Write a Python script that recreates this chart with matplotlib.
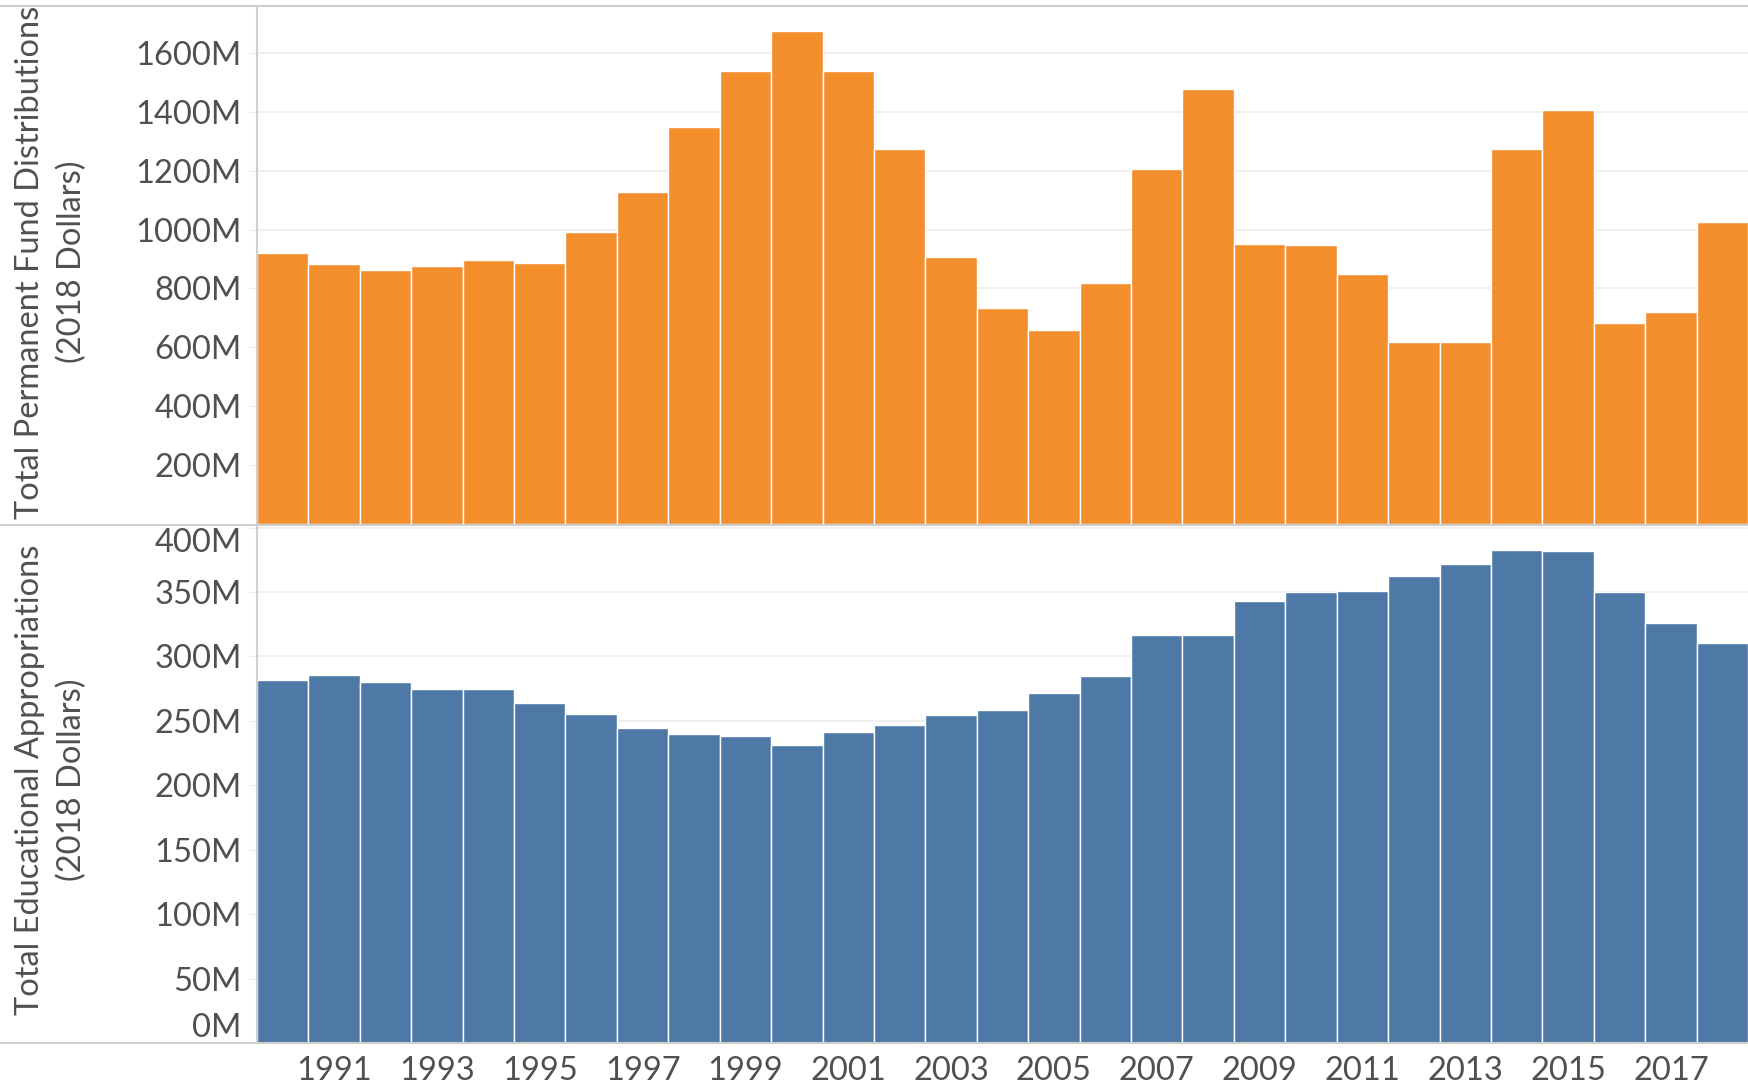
import numpy as np
import matplotlib.pyplot as plt
from matplotlib.lines import Line2D
from matplotlib.ticker import FixedLocator, FuncFormatter

plt.rcParams['font.family'] = ['Lato', 'DejaVu Sans']

##################################################################################
# values, in millions of 2018 dollars

years = list(range(1990, 2019))

fund_dist = [919, 882, 862, 877, 895, 886, 991, 1128, 1349, 1539,
             1673, 1539, 1272, 906, 734, 658, 819, 1205, 1478, 952,
             948, 848, 619, 619, 1272, 1407, 681, 720, 1024]

edu_approp = [281.5, 285.4, 280.2, 274.5, 274.5, 263.6, 255.1, 244.6, 239.9, 238.1,
              231.4, 241.2, 246.6, 254.3, 258.5, 271.4, 284.6, 316.4, 316.4, 343.3,
              350.0, 351.0, 362.1, 371.7, 382.6, 381.8, 350.0, 326.0, 310.7]

year_labels = list(range(1991, 2018, 2))
top_ticks = [200, 400, 600, 800, 1000, 1200, 1400, 1600]
bot_ticks = [0, 50, 100, 150, 200, 250, 300, 350, 400]

###################################################################################

W, H = 1748, 1088
fig = plt.figure(figsize=(W / 100, H / 100), dpi=100)

left = 257
ax1 = fig.add_axes([left / W, 1 - 524 / H, (W - left) / W, (524 - 6) / H])
ax2 = fig.add_axes([left / W, 1 - 1043 / H, (W - left) / W, (1043 - 525) / H])

orange = '#F28E2B'
blue = '#4E79A7'
txt = '#505050'
grid = '#ececec'

ax1.bar(years, fund_dist, width=1.0, color=orange, edgecolor='white', linewidth=1.0, zorder=2)
ax2.bar(years, edu_approp, width=1.0, color=blue, edgecolor='white', linewidth=1.0, zorder=2)

ax1.set_ylim(0, 1759)
ax2.set_ylim(0, 402)

fmt = FuncFormatter(lambda v, p: f"{int(v)}M")
ax1.yaxis.set_major_locator(FixedLocator(top_ticks))
ax2.yaxis.set_major_locator(FixedLocator(bot_ticks))

for ax in (ax1, ax2):
    ax.set_xlim(1989.5, 2018.5)
    ax.yaxis.set_major_formatter(fmt)
    ax.grid(axis='y', color=grid, linewidth=1.2, zorder=0)
    ax.set_axisbelow(True)
    for s in ('top', 'right', 'bottom'):
        ax.spines[s].set_visible(False)
    ax.spines['left'].set_color('#d0d0d0')
    ax.spines['left'].set_linewidth(1.5)
    ax.tick_params(axis='y', length=6, color=grid, labelsize=23.5, labelcolor=txt, pad=5)
    ax.tick_params(axis='x', length=0)

ax1.set_xticks([])
ax2.set_xticks(year_labels)
ax2.set_xticklabels([str(y) for y in year_labels])
ax2.tick_params(axis='x', labelsize=23.5, labelcolor=txt, pad=9)

# edge labels of the lower axis are pushed inside like the original
lbls = ax2.get_yticklabels()
lbls[0].set_va('bottom')
lbls[-1].set_va('top')

# horizontal rules across the whole figure
for y in (6, 524.5, 1043):
    fig.add_artist(Line2D([0, 1], [1 - y / H, 1 - y / H], transform=fig.transFigure,
                          color='#cfcfcf', linewidth=1.5))

fig.text(51 / W, 1 - 262 / H, "Total Permanent Fund Distributions\n(2018 Dollars)",
         rotation=90, ha='center', va='center', multialignment='center',
         fontsize=23.5, color=txt, linespacing=1.5)
fig.text(51 / W, 1 - 780 / H, "Total Educational Appropriations\n(2018 Dollars)",
         rotation=90, ha='center', va='center', multialignment='center',
         fontsize=23.5, color=txt, linespacing=1.5)

plt.savefig('out.png', dpi=100)
